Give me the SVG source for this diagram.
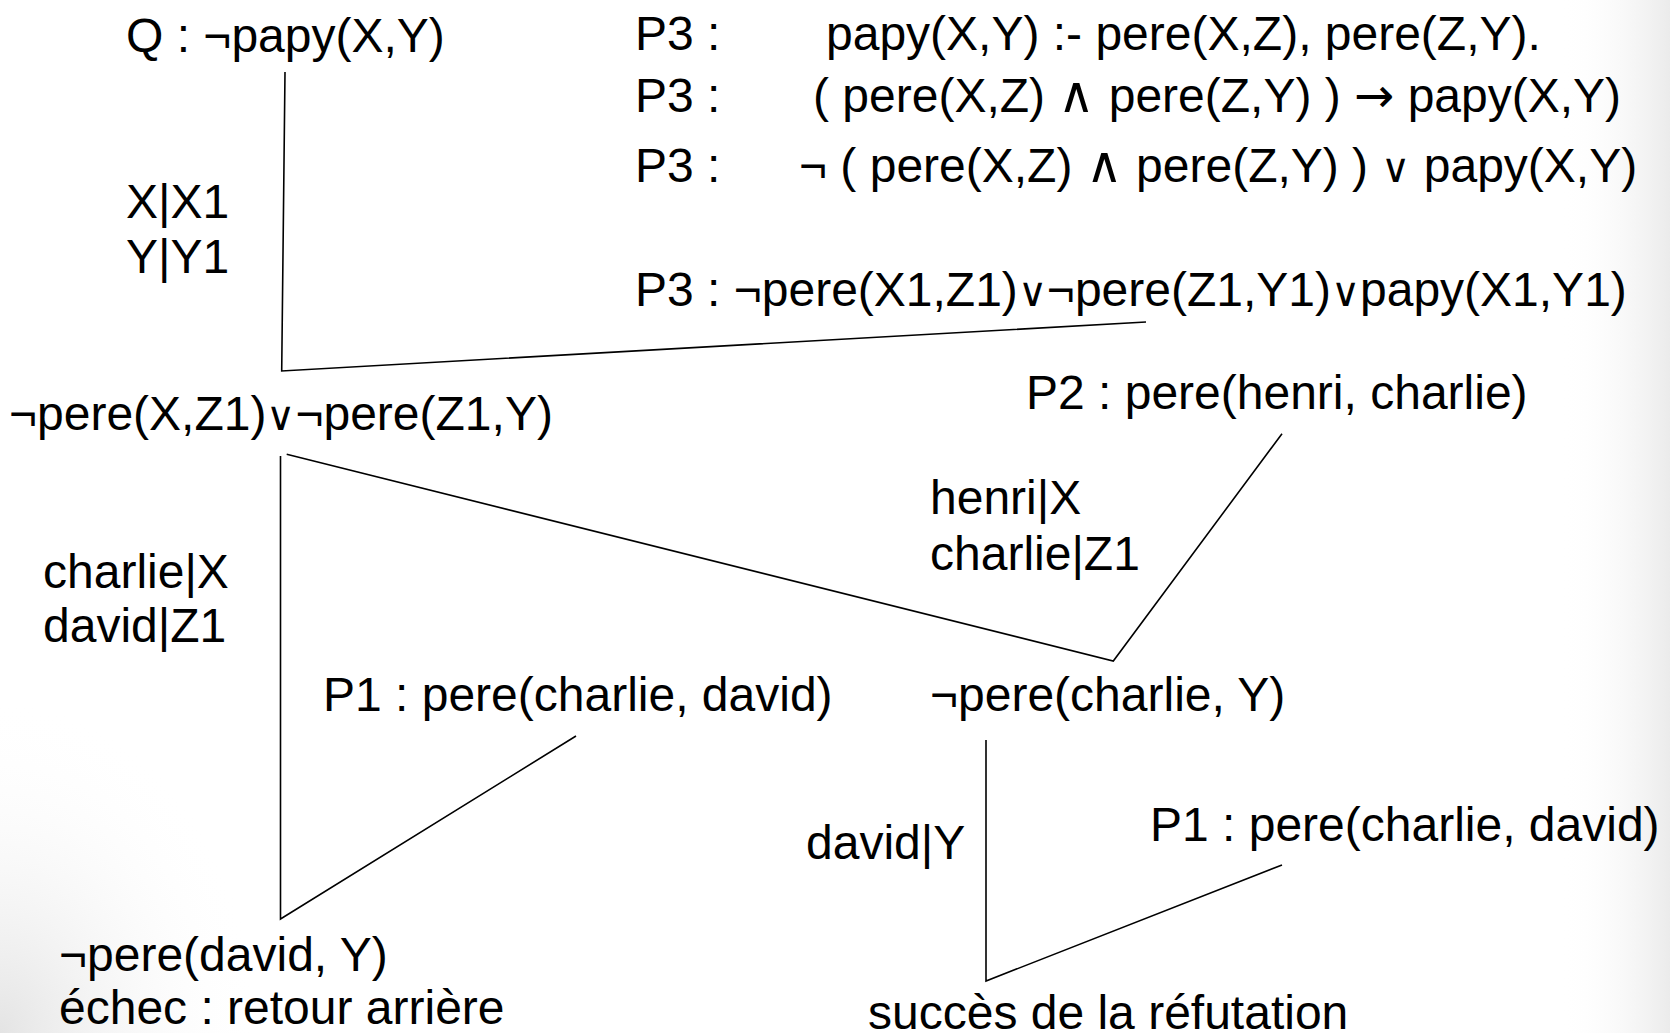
<svg xmlns="http://www.w3.org/2000/svg" width="1670" height="1033" viewBox="0 0 1670 1033">
  <defs>
    <radialGradient id="shadeBL" cx="0" cy="1" r="1">
      <stop offset="0" stop-color="#d8d8d8" stop-opacity="0.7"/>
      <stop offset="1" stop-color="#ffffff" stop-opacity="0"/>
    </radialGradient>
    <linearGradient id="shadeR" x1="0" y1="0" x2="1" y2="0">
      <stop offset="0" stop-color="#ffffff" stop-opacity="0"/>
      <stop offset="1" stop-color="#e6e6e6" stop-opacity="0.8"/>
    </linearGradient>
    <style>
      text { font-family: "Liberation Sans", Arial, "DejaVu Sans", sans-serif; font-size: 48px; fill: #000; }
      .op { font-family: "DejaVu Sans ExtraLight", "DejaVu Sans", sans-serif; font-size: 40px; font-weight: 200; }
      .and { font-family: "DejaVu Sans ExtraLight", "DejaVu Sans", sans-serif; font-size: 50px; font-weight: 200; }
      .arr { font-family: "DejaVu Sans", sans-serif; font-size: 48px; }
      .edge { fill: none; stroke: #000; stroke-width: 1.6; stroke-linejoin: miter; }
    </style>
  </defs>
  <rect width="1670" height="1033" fill="#ffffff"/>
  <rect x="0" y="700" width="260" height="333" fill="url(#shadeBL)"/>
  <rect x="1560" y="0" width="110" height="1033" fill="url(#shadeR)"/>

  <g id="connectors">
    <polyline class="edge" points="285,72 281.7,371 1146,322"/>
    <polyline class="edge" points="576,736 280.5,919 280.5,456"/>
    <polyline class="edge" points="286.7,454.3 1113.3,661 1282,433.7"/>
    <polyline class="edge" points="986,740 986,981 1282,865"/>
  </g>

  <g id="q">
    <text x="126" y="52">Q : ¬papy(X,Y)</text>
  </g>
  <g id="p3-rules">
    <text x="635" y="50">P3 :<tspan x="826">papy(X,Y) :- pere(X,Z), pere(Z,Y).</tspan></text>
    <text x="635" y="112">P3 :<tspan x="813">( pere(X,Z) <tspan class="and">∧</tspan> pere(Z,Y) ) <tspan class="arr">→</tspan> papy(X,Y)</tspan></text>
    <text x="635" y="182">P3 :<tspan x="799">¬ ( pere(X,Z) <tspan class="and">∧</tspan> pere(Z,Y) ) <tspan class="op">∨</tspan> papy(X,Y)</tspan></text>
    <text x="635" y="306">P3 : ¬pere(X1,Z1)<tspan class="op">∨</tspan>¬pere(Z1,Y1)<tspan class="op">∨</tspan>papy(X1,Y1)</text>
  </g>
  <g id="subst1">
    <text x="126" y="218">X|X1</text>
    <text x="126" y="273">Y|Y1</text>
  </g>
  <g id="resolvent1">
    <text x="9" y="430">¬pere(X,Z1)<tspan class="op">∨</tspan>¬pere(Z1,Y)</text>
  </g>
  <g id="p2">
    <text x="1026" y="409">P2 : pere(henri, charlie)</text>
  </g>
  <g id="subst2">
    <text x="930" y="514">henri|X</text>
    <text x="930" y="570">charlie|Z1</text>
  </g>
  <g id="subst3">
    <text x="43" y="588">charlie|X</text>
    <text x="43" y="642">david|Z1</text>
  </g>
  <g id="p1-left">
    <text x="323" y="711">P1 : pere(charlie, david)</text>
  </g>
  <g id="resolvent2">
    <text x="930" y="711">¬pere(charlie, Y)</text>
  </g>
  <g id="subst4">
    <text x="806" y="859">david|Y</text>
  </g>
  <g id="p1-right">
    <text x="1150" y="841">P1 : pere(charlie, david)</text>
  </g>
  <g id="fail">
    <text x="59" y="971">¬pere(david, Y)</text>
    <text x="59" y="1024">échec : retour arrière</text>
  </g>
  <g id="success">
    <text x="868" y="1029">succès de la réfutation</text>
  </g>
</svg>
